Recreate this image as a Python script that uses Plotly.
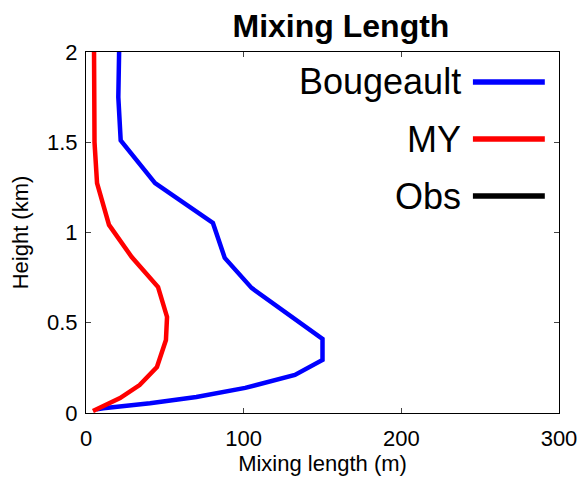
import plotly.graph_objects as go

# Bougeault mixing length profile
boug_len = [6.8, 11, 40.6, 70, 101, 132.5, 150, 150, 105, 88, 80.5, 43.8, 22, 20.5, 21]
boug_hgt = [0.02, 0.026, 0.054, 0.089, 0.139, 0.211, 0.294, 0.410, 0.693, 0.859, 1.053, 1.274, 1.51, 1.75, 2.0]

# MY mixing length profile
my_len = [4.4, 12, 21.6, 34, 45, 50.7, 51.4, 45.7, 29, 14.6, 7, 5.7, 5.4, 5.1]
my_hgt = [0.011, 0.04, 0.083, 0.155, 0.255, 0.404, 0.532, 0.698, 0.864, 1.042, 1.274, 1.457, 1.5, 2.0]

# Obs (no data drawn in the reference)
obs_len = []
obs_hgt = []

series_names = ["Bougeault", "MY", "Obs"]
series_colors = ["#0000FF", "#FF0000", "#000000"]

x_ticks = [0, 100, 200, 300]
y_ticks = [0, 0.5, 1, 1.5, 2]
y_tick_text = ["0", "0.5", "1", "1.5", "2"]

FONT = "Liberation Sans, Arial, Helvetica, sans-serif"

fig = go.Figure()
for xs, ys, name, col in zip([boug_len, my_len, obs_len], [boug_hgt, my_hgt, obs_hgt],
                             series_names, series_colors):
    fig.add_trace(go.Scatter(x=xs, y=ys, mode="lines", name=name,
                             line=dict(color=col, width=4.5), showlegend=False))

# custom legend: text right-aligned, line sample to the right
leg_y = [0.917, 0.759, 0.601]
for name, col, ly in zip(series_names, series_colors, leg_y):
    fig.add_annotation(xref="paper", yref="paper", x=0.797, y=ly, text=name,
                       showarrow=False, xanchor="right", yanchor="middle",
                       font=dict(family=FONT, size=36, color="black"))
    fig.add_shape(type="line", xref="paper", yref="paper", x0=0.818, x1=0.970,
                  y0=ly, y1=ly, line=dict(color=col, width=5.5))

axis_common = dict(showline=True, linecolor="black", linewidth=1, mirror="ticks",
                   ticks="inside", ticklen=5, tickcolor="#444", showgrid=False,
                   zeroline=False, automargin=False,
                   tickfont=dict(family=FONT, size=22, color="black"))

fig.update_xaxes(range=[0, 300], tickvals=x_ticks, ticklabelstandoff=6,
                 title=dict(text="Mixing length (m)", standoff=4,
                            font=dict(family=FONT, size=22, color="black")),
                 **axis_common)
fig.update_yaxes(range=[0, 2], tickvals=y_ticks, ticktext=y_tick_text, ticklabelstandoff=3,
                 title=dict(text="Height (km)", standoff=12,
                            font=dict(family=FONT, size=22, color="black")),
                 **axis_common)

fig.update_layout(
    width=583, height=481,
    margin=dict(l=86, r=24, t=52, b=68),
    paper_bgcolor="white", plot_bgcolor="white",
    title=dict(text="<b>Mixing Length</b>", x=0.539 * 473 / 583 + 86 / 583, xanchor="center",
               y=1 - 26 / 481, yanchor="middle",
               font=dict(family=FONT, size=32, color="black")),
)

fig.write_html("out.html")
